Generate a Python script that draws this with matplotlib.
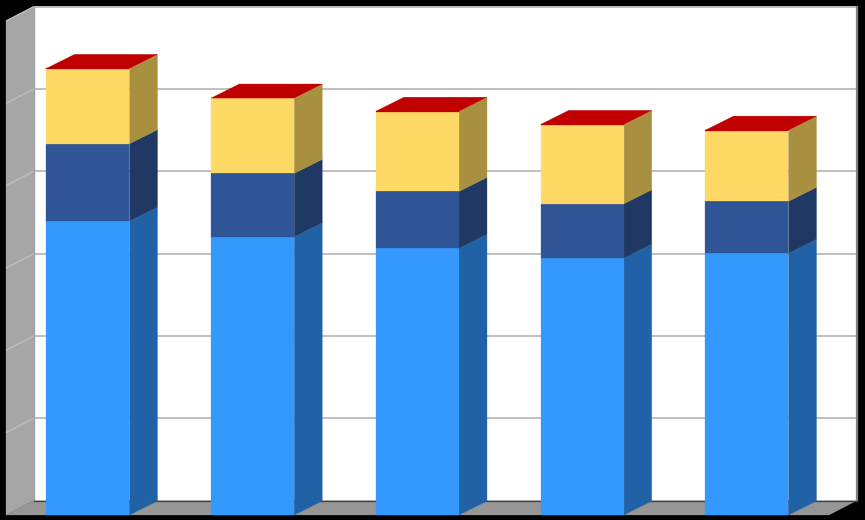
import matplotlib
matplotlib.use("Agg")
import matplotlib.pyplot as plt
from matplotlib.patches import Polygon

categories = [0, 1, 2, 3, 4]
series_a = [3.57, 3.38, 3.24, 3.12, 3.18]
series_b = [0.94, 0.77, 0.69, 0.66, 0.63]
series_c = [0.91, 0.91, 0.97, 0.96, 0.86]
series_d = [0.005, 0.005, 0.005, 0.005, 0.005]
gridlines = [0, 1, 2, 3, 4, 5, 6]

W, H = 865, 520
UX, UY = 164.75, 82.33     # pixels per category / per value
X0, Y0 = 88.0, 515.0       # pixel of category 0 centre / value 0 (front plane)
DX, DY = 28 / UX, 14.5 / UY  # wall depth offset
BDY = 14 / UY                # column depth offset
BW = 83 / UX

front = ["#3399FF", "#2F5597", "#FFD966", "#C00000"]
side = ["#2162A6", "#1F3864", "#A89040", "#A89040"]
top_col = "#C00000"

fig = plt.figure(figsize=(W / 100, H / 100), dpi=100, facecolor="black")
ax = fig.add_axes([0, 0, 1, 1], facecolor="black")
ax.set_xlim(-X0 / UX, (W - X0) / UX)
ax.set_ylim(-(H - Y0) / UY, Y0 / UY)
ax.axis("off")

xl = (6 - X0) / UX            # front-left of the walls
xr = (829 - X0) / UX          # front-right of the floor
ymax = gridlines[-1]


def poly(pts, color, z):
    ax.add_patch(Polygon(pts, closed=True, facecolor=color, edgecolor=color,
                         linewidth=0.2, zorder=z))


# back wall, side wall, floor
poly([(xl + DX, DY), (xr + DX, DY), (xr + DX, ymax + DY), (xl + DX, ymax + DY)], "white", 1)
poly([(xl, 0), (xl + DX, DY), (xl + DX, ymax + DY), (xl, ymax)], "#A6A6A6", 1)
poly([(xl, 0), (xl + DX, DY), (xr + DX, DY), (xr, 0)], "#969696", 1)

# gridlines on the side wall and back wall
for g in gridlines[1:]:
    col = "#BFBFBF"
    ax.plot([xl + DX, xr + DX], [g + DY, g + DY], color=col, lw=1.4, zorder=2,
            solid_capstyle="butt")
    ax.plot([xl, xl + DX], [g, g + DY], color=col, lw=1.0, zorder=2,
            solid_capstyle="butt")
ax.plot([xl + DX, xl + DX], [DY, ymax + DY], color="#A0A0B0", lw=1.0, zorder=2)
ax.plot([xr + DX, xr + DX], [DY, ymax + DY], color="#808080", lw=1.6, zorder=2)
ax.plot([xl + DX, xr + DX], [DY, DY], color="#404040", lw=0.9, zorder=2)

# stacked 3-D columns
for i, c in enumerate(categories):
    left, right = c - BW / 2, c + BW / 2
    base = 0.0
    for s, vals in enumerate([series_a, series_b, series_c, series_d]):
        v = vals[i]
        top = base + v
        poly([(right, base), (right + DX, base + BDY), (right + DX, top + BDY), (right, top)],
             side[s], 3 + s)
        poly([(left, base), (right, base), (right, top), (left, top)], front[s], 3 + s)
        base = top
    poly([(left, base), (right, base), (right + DX, base + BDY), (left + DX, base + BDY)],
         top_col, 8)

fig.savefig("out.png", dpi=100, facecolor="black")
